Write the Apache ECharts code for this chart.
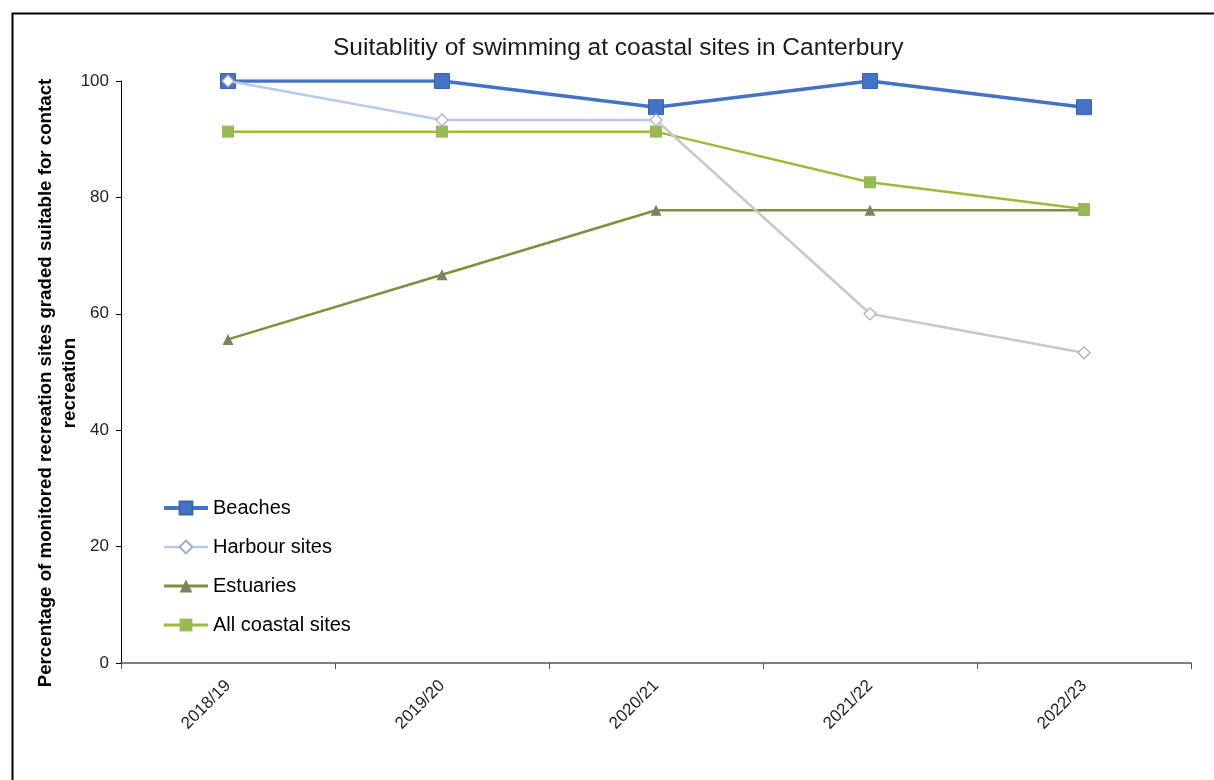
<!DOCTYPE html>
<html>
<head>
<meta charset="utf-8">
<title>Suitability of swimming at coastal sites in Canterbury</title>
<script src="https://cdn.jsdelivr.net/npm/echarts@6/dist/echarts.min.js"></script>
<style>
  html, body { margin: 0; padding: 0; background: #ffffff; }
  #chart { width: 1214px; height: 780px; }
</style>
</head>
<body>
<div id="chart"></div>
<script>
// Reporting seasons
const seasons = ['2018/19', '2019/20', '2020/21', '2021/22', '2022/23'];

// Percentage of monitored sites graded suitable for contact recreation
const beaches = [100, 100, 95.5, 100, 95.5];
const harbourSites = [100, 93.3, 93.3, 60, 53.3];
const estuaries = [55.6, 66.7, 77.8, 77.8, 77.8];
const allCoastal = [91.3, 91.3, 91.3, 82.6, 78.0];

// Y axis range
const yMin = 0;
const yMax = 100;
const yStep = 20;

const chart = echarts.init(document.getElementById('chart'), null, { renderer: 'canvas' });

const FONT = '"Liberation Sans", Arial, sans-serif';

// Harbour line: lavender over the early seasons, fading to grey from 2020/21 on
const harbourLine = new echarts.graphic.LinearGradient(0, 0, 1, 0, [
  { offset: 0, color: '#b9c9e8' },
  { offset: 0.5, color: '#b9c9e8' },
  { offset: 0.5, color: '#c8c8ca' },
  { offset: 1, color: '#c8c8ca' }
]);

chart.setOption({
  backgroundColor: '#ffffff',
  animation: false,
  textStyle: { fontFamily: FONT },
  graphic: [{
    type: 'rect',
    left: 10, top: 11,
    shape: { width: 1230, height: 800 },
    style: { fill: 'none', stroke: '#000000', lineWidth: 2 },
    silent: true,
    z: 100
  }],
  title: {
    text: 'Suitablitiy of swimming at coastal sites in Canterbury',
    left: 328,
    top: 31,
    textStyle: { fontFamily: FONT, fontSize: 24.5, fontWeight: 'normal', color: '#1a1a1a' }
  },
  legend: {
    orient: 'vertical',
    left: 157,
    top: 493,
    itemGap: 19,
    itemWidth: 44,
    itemHeight: 16,
    textStyle: { fontFamily: FONT, fontSize: 20, color: '#000000' },
    data: [
      { name: 'Beaches', lineStyle: { width: 4 } },
      { name: 'Harbour sites', lineStyle: { color: '#b9c9e8', width: 2.5 } },
      { name: 'Estuaries', lineStyle: { width: 3 } },
      { name: 'All coastal sites', lineStyle: { width: 3 } }
    ]
  },
  grid: { left: 121, right: 23, top: 81, bottom: 117, containLabel: false },
  xAxis: {
    type: 'category',
    data: seasons,
    boundaryGap: true,
    axisLine: { lineStyle: { color: '#555555', width: 1.5 } },
    axisTick: { show: true, alignWithLabel: false, length: 6, lineStyle: { color: '#555555' } },
    axisLabel: { rotate: 45, fontSize: 17, color: '#222222', margin: 20, fontFamily: FONT },
    splitLine: { show: false }
  },
  yAxis: {
    type: 'value',
    min: yMin,
    max: yMax,
    interval: yStep,
    name: 'Percentage of monitored recreation sites graded suitable for contact\nrecreation',
    nameLocation: 'middle',
    nameGap: 39,
    nameMoveOverlap: false,
    nameTextStyle: {
      fontFamily: FONT, fontSize: 18.7, fontWeight: 'bold', color: '#000000',
      lineHeight: 24, padding: [0, 22, 0, 0]
    },
    axisLine: { show: true, lineStyle: { color: '#000000', width: 1 } },
    axisTick: { show: true, length: 5, lineStyle: { color: '#000000' } },
    axisLabel: { fontSize: 17, color: '#222222', margin: 12, fontFamily: FONT },
    splitLine: { show: false }
  },
  series: [
    {
      name: 'Beaches',
      type: 'line',
      data: beaches,
      symbol: 'rect',
      symbolSize: 15,
      z: 5,
      lineStyle: { color: '#4472c4', width: 3.5 },
      itemStyle: { color: '#4472c4', borderColor: '#3a64b0', borderWidth: 1 }
    },
    {
      name: 'Harbour sites',
      type: 'line',
      data: harbourSites,
      symbol: 'diamond',
      symbolSize: 12,
      z: 6,
      lineStyle: { color: harbourLine, width: 2.5 },
      itemStyle: { color: '#ffffff', borderColor: '#a4a9c6', borderWidth: 1.2 }
    },
    {
      name: 'Estuaries',
      type: 'line',
      data: estuaries,
      symbol: 'triangle',
      symbolSize: 11,
      z: 3,
      lineStyle: { color: '#77933c', width: 2.5 },
      itemStyle: { color: '#7a8560' }
    },
    {
      name: 'All coastal sites',
      type: 'line',
      data: allCoastal,
      symbol: 'rect',
      symbolSize: 12,
      z: 4,
      lineStyle: { color: '#9bbb3a', width: 2.5 },
      itemStyle: { color: '#98b954' }
    }
  ]
});
</script>
</body>
</html>
